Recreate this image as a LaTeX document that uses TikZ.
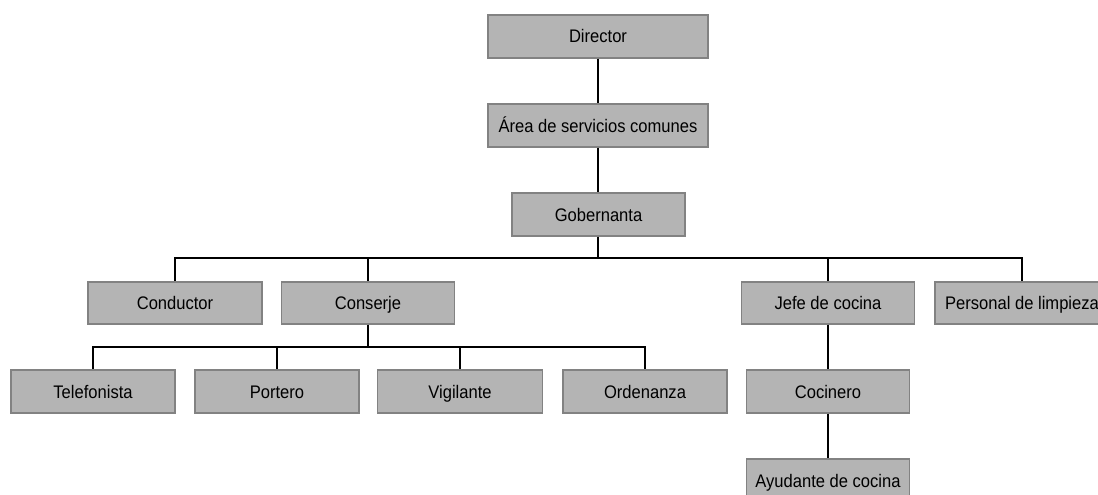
\documentclass[tikz,border=0pt]{standalone}
\usepackage{fontspec}
\setmainfont{Liberation Sans}[FakeStretch=0.91]
\definecolor{boxfill}{RGB}{180,180,180}
\definecolor{boxline}{RGB}{130,130,130}
\begin{document}
\begin{tikzpicture}[x=1pt,y=-1pt,
  unit/.style={draw=boxline,line width=1.2pt,fill=boxfill,rectangle,inner sep=0pt,
    text height=16pt,text depth=3pt,
    minimum height=43pt,font=\fontsize{18.2}{20}\selectfont},
  link/.style={line width=1.4pt,black}]
\useasboundingbox (0,0) rectangle (1098,495);
\node[unit,minimum width=220pt] (dir) at (598,36.5) {Director};
\node[unit,minimum width=220pt] (area) at (598,125.5) {Área de servicios comunes};
\node[unit,minimum width=173pt] (gob) at (598.5,214.5) {Gobernanta};
\node[unit,minimum width=174pt,minimum height=42pt] (cond) at (175,303) {Conductor};
\node[unit,minimum width=173pt,minimum height=42pt] (cons) at (368,303) {Conserje};
\node[unit,minimum width=173pt,minimum height=42pt] (jefe) at (828,303) {Jefe de cocina};
\node[unit,minimum width=174pt,minimum height=42pt] (pers) at (1022,303) {Personal de limpieza};
\node[unit,minimum width=164pt] (tel) at (93,391.5) {Telefonista};
\node[unit,minimum width=164pt] (port) at (277,391.5) {Portero};
\node[unit,minimum width=165pt] (vig) at (460,391.5) {Vigilante};
\node[unit,minimum width=164pt] (ord) at (645,391.5) {Ordenanza};
\node[unit,minimum width=163pt] (coc) at (828,391.5) {Cocinero};
\node[unit,minimum width=163pt] (ayu) at (828,480.5) {Ayudante de cocina};
\coordinate (b1) at (598,258);
\coordinate (b2) at (368,347);
\draw[link] (dir) -- (area);
\draw[link] (area) -- (area |- gob.north);
\draw[link] (gob.south -| b1) -- (b1);
\draw[link] (b1) -| (cond.north);
\draw[link] (b1) -| (cons.north);
\draw[link] (b1) -| (jefe.north);
\draw[link] (b1) -| (pers.north);
\draw[link] (cons) -- (b2);
\draw[link] (b2) -| (tel.north);
\draw[link] (b2) -| (port.north);
\draw[link] (b2) -| (vig.north);
\draw[link] (b2) -| (ord.north);
\draw[link] (jefe) -- (coc);
\draw[link] (coc) -- (ayu);
\end{tikzpicture}
\end{document}
